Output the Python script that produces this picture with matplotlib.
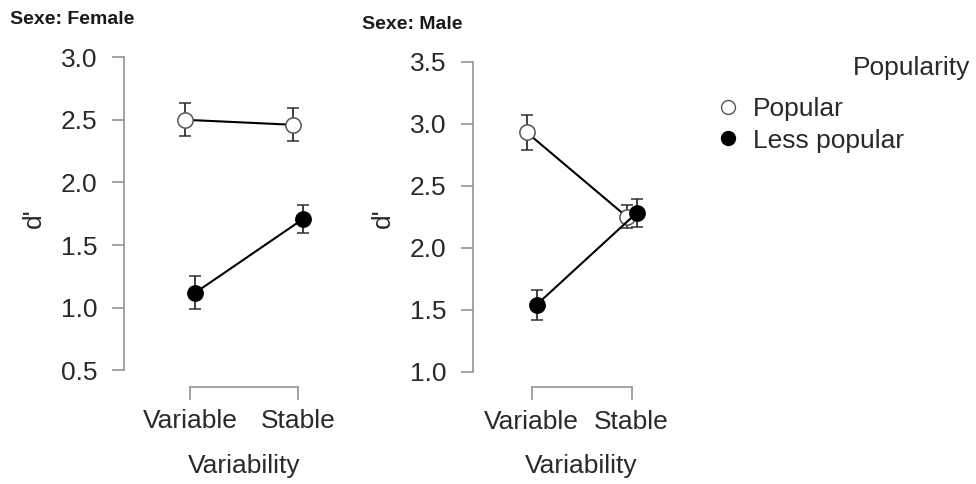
import matplotlib.pyplot as plt
import numpy as np

plt.rcParams['font.family'] = ['Liberation Sans', 'DejaVu Sans']

# descriptives per panel: mean d' and error half-width
levels = ['Variable', 'Stable']
groups = ['Popular', 'Less popular']

female_popular = [2.50, 2.46]
female_popular_err = [0.13, 0.13]
female_less = [1.12, 1.71]
female_less_err = [0.13, 0.11]

male_popular = [2.93, 2.25]
male_popular_err = [0.14, 0.09]
male_less = [1.54, 2.28]
male_less_err = [0.12, 0.11]

spine_col = '#8a8a8a'
text_col = '#2a2a2a'
dodge = 0.05
fs = 19


def draw_panel(ax, pop, pop_err, less, less_err, yticks, ylim, xlim):
    x = np.arange(len(levels))
    # popular: open circles, less popular: filled
    ax.errorbar(x - dodge, pop, yerr=pop_err, color='black', lw=1.5,
                ecolor='#303030', elinewidth=1.3, capsize=4.5, capthick=1.3,
                marker='o', ms=11, mfc='white', mec='#555555', mew=1.1, zorder=3)
    ax.errorbar(x + dodge, less, yerr=less_err, color='black', lw=1.5,
                ecolor='#303030', elinewidth=1.3, capsize=4.5, capthick=1.3,
                marker='o', ms=11, mfc='black', mec='black', mew=1.1, zorder=4)

    ax.set_xlim(*xlim)
    ax.set_ylim(*ylim)
    ax.set_yticks(yticks)
    ax.set_yticklabels([f'{t:.1f}' for t in yticks])
    ax.set_xticks(x)
    ax.set_xticklabels(levels)

    for side in ['top', 'right']:
        ax.spines[side].set_visible(False)
    ax.spines['left'].set_bounds(yticks[0], yticks[-1])
    ax.spines['bottom'].set_bounds(0, len(levels) - 1)
    for side in ['left', 'bottom']:
        ax.spines[side].set_color(spine_col)
        ax.spines[side].set_linewidth(1.1)

    ax.tick_params(axis='both', colors=spine_col, length=9, width=1.1,
                   labelsize=fs, labelcolor=text_col)
    ax.tick_params(axis='y', pad=10)
    ax.tick_params(axis='x', pad=7)

    ax.set_ylabel("d'", fontsize=fs, color=text_col, labelpad=11)
    ax.set_xlabel('Variability', fontsize=fs, color=text_col, labelpad=15)
    ax.patch.set_visible(False)


fig = plt.figure(figsize=(9.76, 4.84), dpi=100)

ax1 = fig.add_axes([0.127, 0.201, 0.246, 0.696])
draw_panel(ax1, female_popular, female_popular_err, female_less, female_less_err,
           [0.5, 1.0, 1.5, 2.0, 2.5, 3.0], (0.369, 3.058), (-0.611, 1.611))

ax2 = fig.add_axes([0.4846, 0.1998, 0.2227, 0.697])
draw_panel(ax2, male_popular, male_popular_err, male_less, male_less_err,
           [1.0, 1.5, 2.0, 2.5, 3.0, 3.5], (0.874, 3.594), (-0.587, 1.587))

fig.text(0.010, 0.960, 'Sexe: Female', fontsize=14, fontweight='bold',
         color='#1a1a1a', ha='left', va='center')
fig.text(0.371, 0.950, 'Sexe: Male', fontsize=14, fontweight='bold',
         color='#1a1a1a', ha='left', va='center')

# legend
fig.text(0.994, 0.860, 'Popularity', fontsize=fs, color=text_col,
         ha='right', va='center')
handles = [plt.Line2D([], [], ls='none', marker='o', ms=10, mfc='white',
                      mec='#555555', mew=1.0),
           plt.Line2D([], [], ls='none', marker='o', ms=10, mfc='black',
                      mec='black')]
fig.legend(handles, groups, loc='upper left', bbox_to_anchor=(0.735, 0.800),
           frameon=False, fontsize=fs, handlelength=0.8, handletextpad=0.55,
           labelspacing=0.3, labelcolor=text_col, borderaxespad=0, borderpad=0)

fig.savefig('out.png', dpi=100)
